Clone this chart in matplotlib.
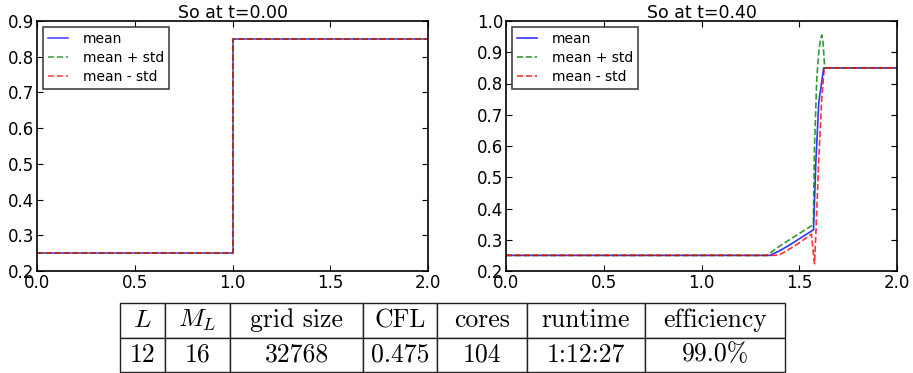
import matplotlib
matplotlib.use("Agg")
import matplotlib.pyplot as plt

# initial condition, t = 0.00
x0 = [0.0, 1.0, 1.0, 2.0]
mean0 = [0.25, 0.25, 0.85, 0.85]
plus0 = [0.25, 0.25, 0.85, 0.85]
minus0 = [0.25, 0.25, 0.85, 0.85]

# t = 0.40
x_mean = [0.0, 1.35, 1.40, 1.45, 1.50, 1.573, 1.585, 1.60, 1.625, 2.0]
y_mean = [0.25, 0.25, 0.265, 0.283, 0.303, 0.332, 0.55, 0.74, 0.85, 0.85]
x_plus = [0.0, 1.335, 1.40, 1.45, 1.50, 1.572, 1.578, 1.59, 1.60, 1.608, 1.615, 1.622, 1.63, 2.0]
y_plus = [0.25, 0.25, 0.28, 0.30, 0.32, 0.348, 0.60, 0.82, 0.90, 0.94, 0.955, 0.93, 0.85, 0.85]
x_minus = [0.0, 1.37, 1.40, 1.45, 1.50, 1.562, 1.572, 1.578, 1.585, 1.60, 1.615, 1.628, 2.0]
y_minus = [0.25, 0.25, 0.252, 0.27, 0.29, 0.318, 0.26, 0.223, 0.32, 0.56, 0.75, 0.85, 0.85]

col_labels = ["$L$", "$M_L$", "grid size", "CFL", "cores", "runtime", "efficiency"]
row_values = ["12", "16", "32768", "0.475", "104", "1:12:27", "99.0%"]

plt.rcParams['mathtext.fontset'] = 'cm'

fig = plt.figure(figsize=(9.13, 3.73), dpi=100)
W, H = 913.0, 373.0


def style_axes(ax, ylo, yhi, title):
    ax.set_xlim(0, 2)
    ax.set_ylim(ylo, yhi)
    ax.set_xticks([0.0, 0.5, 1.0, 1.5, 2.0])
    ax.tick_params(direction='in', top=True, right=True, labelsize=12, length=4, pad=2)
    for sp in ax.spines.values():
        sp.set_linewidth(1.2)
    ax.set_title(title, fontsize=12.5, pad=2)
    leg = ax.legend(loc='upper left', fontsize=10, fancybox=False, framealpha=1,
                    edgecolor='#444444', handlelength=1.4, handletextpad=1.1,
                    labelspacing=0.35, borderpad=0.35, borderaxespad=0.45)
    leg.get_frame().set_linewidth(1.2)


ax1 = fig.add_axes([37 / W, 1 - 271 / H, 391 / W, 250 / H])
ax1.plot(x0, mean0, color='b', lw=1.2, alpha=0.7, label='mean')
ax1.plot(x0, plus0, color='g', lw=1.2, ls='--', alpha=0.7, label='mean + std')
ax1.plot(x0, minus0, color='r', lw=1.2, ls='--', alpha=0.7, label='mean - std')
ax1.set_yticks([0.2, 0.3, 0.4, 0.5, 0.6, 0.7, 0.8, 0.9])
style_axes(ax1, 0.2, 0.9, "So at t=0.00")

ax2 = fig.add_axes([506 / W, 1 - 271 / H, 391 / W, 250 / H])
ax2.plot(x_mean, y_mean, color='b', lw=1.2, alpha=0.8, label='mean')
ax2.plot(x_plus, y_plus, color='g', lw=1.2, ls='--', alpha=0.8, label='mean + std')
ax2.plot(x_minus, y_minus, color='r', lw=1.2, ls='--', alpha=0.8, label='mean - std')
ax2.set_yticks([0.2, 0.3, 0.4, 0.5, 0.6, 0.7, 0.8, 0.9, 1.0])
style_axes(ax2, 0.2, 1.0, "So at t=0.40")

# table of run parameters
axt = fig.add_axes([120 / W, 1 / H, 665 / W, 69 / H])
axt.axis('off')
widths = [45, 65, 133, 74, 90, 118, 140]
tot = float(sum(widths))
tab = axt.table(cellText=[row_values], colLabels=col_labels,
                colWidths=[w / tot for w in widths], cellLoc='center',
                bbox=[0, 0, 1, 1])
tab.auto_set_font_size(False)
for cell in tab.get_celld().values():
    cell.set_linewidth(1.0)
    cell.set_edgecolor('#222222')
    cell.get_text().set_fontfamily('cmr10')
    cell.get_text().set_fontsize(18.5)

fig.savefig("out.png", dpi=100)
